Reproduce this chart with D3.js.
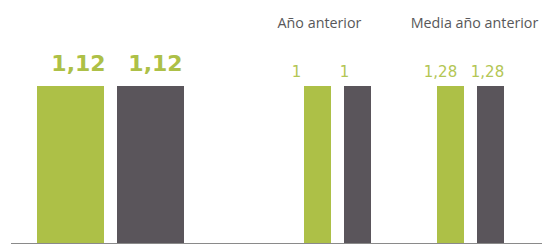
<html><head><meta charset="utf-8">
<style>
  body { margin: 0; background: #fff; }
  svg { display: block; }
  .title { font-family: "Open Sans", sans-serif; font-size: 14.3px; fill: #58585a; }
  .big { font-family: "DejaVu Sans", sans-serif; font-weight: bold; font-size: 22px; fill: #adc047; }
  .small { font-family: "DejaVu Sans", sans-serif; font-size: 15px; fill: #b3c654; }
</style>
</head>
<body>
<svg id="chart"></svg>
<script src="https://d3js.org/d3.v7.min.js"></script>
<script>
  // data
  const groups = ["Actual", "Año anterior", "Media año anterior"];
  const titles = ["", "Año anterior", "Media año anterior"];
  const series = ["a", "b"];
  const valuesA = [1.12, 1, 1.28];
  const valuesB = [1.12, 1, 1.28];
  const colors = ["#adc047", "#5a555b"];

  let width = 542, height = 244;
  let baseY = 243, topY = 86;

  // layout of each small chart (each one has its own scale)
  let layout = [
    { x0: 37, x1: 184, pad: 0.1625, cls: "big", gap: 15, dx: [8, 5] },
    { x0: 304, x1: 371, pad: 0.325, cls: "small", gap: 9, dx: [-21, -13] },
    { x0: 437, x1: 504, pad: 0.325, cls: "small", gap: 9, dx: [-10, -3] }
  ];

  let locale = d3.formatLocale({ decimal: ",", thousands: ".", grouping: [3], currency: ["", "€"] });
  let fmt = locale.format(",.2~f");

  let svg = d3.select("#chart").attr("width", width).attr("height", height);

  groups.forEach((g, i) => {
    let vals = [valuesA[i], valuesB[i]];
    let cfg = layout[i];
    let x = d3.scaleBand().domain(series).range([cfg.x0, cfg.x1]).paddingInner(cfg.pad);
    let y = d3.scaleLinear().domain([0, d3.max(vals)]).range([baseY, topY]);
    let body = svg.append("g");

    body.selectAll("rect")
      .data(vals)
      .enter()
      .append("rect")
      .attr("x", (d, j) => x(series[j]))
      .attr("y", d => y(d))
      .attr("width", x.bandwidth())
      .attr("height", d => baseY - y(d))
      .attr("fill", (d, j) => colors[j]);

    body.selectAll("text.val")
      .data(vals)
      .enter()
      .append("text")
      .attr("class", "val " + cfg.cls)
      .attr("x", (d, j) => x(series[j]) + x.bandwidth() / 2 + cfg.dx[j])
      .attr("y", d => y(d) - cfg.gap)
      .attr("text-anchor", "middle")
      .text(d => fmt(d));

    if (titles[i]) {
      body.append("text")
        .attr("class", "title")
        .attr("x", (cfg.x0 + cfg.x1) / 2 + (i == 1 ? -18 : 4))
        .attr("y", 28)
        .attr("text-anchor", "middle")
        .text(titles[i]);
    }
  });

  svg.append("line")
    .attr("x1", 11).attr("x2", width)
    .attr("y1", baseY + 0.5).attr("y2", baseY + 0.5)
    .attr("stroke", "#8a8a8a")
    .attr("stroke-width", 1);
</script>
</body></html>
